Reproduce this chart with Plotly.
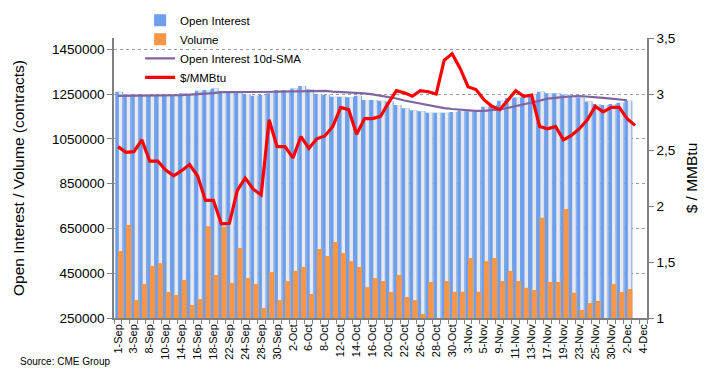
import plotly.graph_objects as go

dates = ["1-Sep","2-Sep","3-Sep","4-Sep","8-Sep","9-Sep","10-Sep","11-Sep","14-Sep","15-Sep",
         "16-Sep","17-Sep","18-Sep","21-Sep","22-Sep","23-Sep","24-Sep","25-Sep","28-Sep","29-Sep",
         "30-Sep","1-Oct","2-Oct","5-Oct","6-Oct","7-Oct","8-Oct","9-Oct","12-Oct","13-Oct",
         "14-Oct","15-Oct","16-Oct","19-Oct","20-Oct","21-Oct","22-Oct","23-Oct","26-Oct","27-Oct",
         "28-Oct","29-Oct","30-Oct","2-Nov","3-Nov","4-Nov","5-Nov","6-Nov","9-Nov","10-Nov",
         "11-Nov","12-Nov","13-Nov","16-Nov","17-Nov","18-Nov","19-Nov","20-Nov","23-Nov","24-Nov",
         "25-Nov","27-Nov","30-Nov","1-Dec","2-Dec","3-Dec","4-Dec"]

open_interest = [1260000,1249000,1249000,1250000,1246000,1246000,1246000,1246000,1253000,1250000,
                 1265000,1268000,1275000,1263000,1263000,1256000,1250000,1242000,1246000,1253000,
                 1268000,1268000,1274000,1286000,1271000,1250000,1246000,1238000,1238000,1236000,
                 1242000,1223000,1223000,1220000,1216000,1201000,1186000,1178000,1173000,1166000,
                 1166000,1166000,1170000,1175000,1173000,1173000,1193000,1201000,1220000,1231000,
                 1234000,1238000,1248000,1260000,1253000,1253000,1248000,1238000,1234000,1216000,
                 1205000,1201000,1205000,1211000,1220000]

volume = [549000,665000,330000,402000,482000,495000,366000,353000,420000,308000,
          335000,660000,442000,657000,407000,563000,428000,402000,295000,455000,
          330000,415000,460000,478000,357000,558000,527000,589000,540000,504000,
          478000,388000,428000,415000,366000,442000,344000,330000,268000,411000,
          240000,415000,367000,367000,518000,367000,504000,518000,415000,460000,
          415000,385000,375000,697000,411000,411000,737000,363000,286000,317000,
          326000,240000,402000,366000,379000]

oi_sma10 = [1242000,1242000,1242000,1242000,1242000,1242000,1242000,1243000,1245000,1247000,
            1249000,1250000,1254000,1258000,1259000,1259000,1259000,1259000,1259000,1260000,
            1260000,1260000,1260000,1262000,1265000,1266000,1264000,1261000,1259000,1258000,
            1256000,1253000,1248000,1243000,1237000,1230000,1221000,1214000,1206000,1199000,
            1192000,1187000,1183000,1180000,1176000,1175000,1175000,1177000,1181000,1188000,
            1195000,1203000,1212000,1220000,1229000,1233000,1237000,1240000,1241000,1239000,
            1236000,1233000,1229000,1225000,1222000]

price = [2.53,2.48,2.485,2.59,2.40,2.40,2.32,2.27,2.315,2.37,
         2.27,2.05,2.05,1.84,1.845,2.14,2.25,2.15,2.10,2.77,
         2.53,2.53,2.43,2.62,2.515,2.60,2.625,2.71,2.88,2.86,
         2.64,2.78,2.78,2.80,2.92,3.03,3.01,2.98,3.03,3.02,
         3.00,3.30,3.36,3.23,3.065,3.04,2.95,2.89,2.86,2.95,
         3.03,2.98,2.99,2.71,2.69,2.71,2.59,2.63,2.69,2.77,
         2.89,2.84,2.88,2.88,2.78,2.72]

left_ticks = [250000, 450000, 650000, 850000, 1050000, 1250000, 1450000]
right_ticks = [1, 1.5, 2, 2.5, 3, 3.5]

idx = list(range(len(dates)))
label_idx = idx[::2]
label_txt = dates[::2]

FONT = "Liberation Sans, Arial, Helvetica, sans-serif"

fig = go.Figure()
fig.add_trace(go.Bar(x=idx[:len(open_interest)], y=open_interest, offset=-0.34, width=1.0,
                     name="Open Interest", marker=dict(color="#6d9feb", line=dict(width=0))))
fig.add_trace(go.Bar(x=idx[:len(open_interest)], y=open_interest, offset=0.1, width=0.44,
                     marker=dict(color="#e7e9ec", line=dict(width=0)), showlegend=False,
                     hoverinfo="skip"))
fig.add_trace(go.Bar(x=idx[:len(volume)], y=volume, offset=0.0, width=0.66,
                     name="Volume", marker=dict(color="#f79646", line=dict(width=0))))
fig.add_trace(go.Scatter(x=idx[:len(oi_sma10)], y=oi_sma10, mode="lines",
                         name="Open Interest 10d-SMA",
                         line=dict(color="#8064a2", width=2.2)))
fig.add_trace(go.Scatter(x=idx[:len(price)], y=price, mode="lines", name="$/MMBtu",
                         yaxis="y2", line=dict(color="#ff0000", width=3.2)))

# the page body has an 8px margin, so the figure is offset by 8px; compensate
fig.update_layout(
    width=703, height=371,
    margin=dict(l=106, r=64, t=30, b=61, autoexpand=False),
    paper_bgcolor="white", plot_bgcolor="white",
    barmode="overlay",
    separators=",.",
    font=dict(family=FONT, color="black", size=13),
    showlegend=True,
    legend=dict(x=0.049, y=1.115, xanchor="left", yanchor="top",
                font=dict(size=11.5, family=FONT), bgcolor="rgba(0,0,0,0)",
                tracegroupgap=0, itemwidth=30),
    xaxis=dict(range=[-0.5, len(dates) - 0.5], tickmode="array",
               tickvals=label_idx, ticktext=label_txt, tickangle=-90,
               tickfont=dict(size=11), ticks="", showgrid=False, zeroline=False,
               showline=True, linecolor="#808080", linewidth=1.5,
               minor=dict(ticks="outside", tickmode="linear", tick0=-0.5, dtick=1,
                          ticklen=4, tickcolor="#808080", showgrid=False)),
    yaxis=dict(range=[250000, 1500000], tickmode="array", tickvals=left_ticks,
               tickformat="d", showgrid=True, gridcolor="#9a9a9a", griddash="dot",
               gridwidth=1, zeroline=False, showline=True, linecolor="#808080",
               linewidth=1.5, ticks="outside", ticklen=5, tickcolor="#808080",
               tickfont=dict(size=13.5),
               title=dict(text="Open Interest / Volume (contracts)",
                          font=dict(size=15.5), standoff=24)),
    yaxis2=dict(range=[1, 3.5], tickmode="array", tickvals=right_ticks,
                overlaying="y", side="right", showgrid=False, zeroline=False,
                showline=True, linecolor="#808080", linewidth=1.5,
                ticks="outside", ticklen=5, tickcolor="#808080",
                tickfont=dict(size=13.5),
                title=dict(text="$ / MMBtu", font=dict(size=15.5), standoff=12)),
    annotations=[dict(text="Source: CME Group", xref="paper", yref="paper",
                      x=-0.18, y=-0.13, xanchor="left", yanchor="top",
                      showarrow=False, font=dict(size=10, family=FONT))],
)

fig.write_html("out.html")
